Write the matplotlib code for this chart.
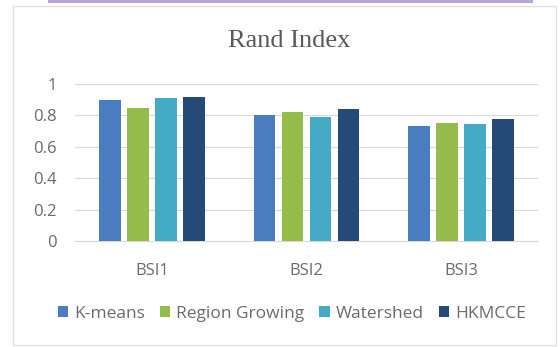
import matplotlib
matplotlib.use("Agg")
import matplotlib.pyplot as plt
import numpy as np
from matplotlib.patches import Rectangle

categories = ["BSI1", "BSI2", "BSI3"]
series_names = ["K-means", "Region Growing", "Watershed", "HKMCCE"]
kmeans = [0.90, 0.80, 0.73]
region_growing = [0.85, 0.82, 0.75]
watershed = [0.91, 0.79, 0.745]
hkmcce = [0.92, 0.84, 0.78]
yticks = [0, 0.2, 0.4, 0.6, 0.8, 1]
ytick_labels = ["0", "0.2", "0.4", "0.6", "0.8", "1"]
title = "Rand Index"

colors = ["#4A7CC0", "#95BB4A", "#45AAC6", "#264A78"]
series = [kmeans, region_growing, watershed, hkmcce]

W, H = 560, 347
fig = plt.figure(figsize=(W / 100, H / 100), dpi=100)
fig.patch.set_facecolor("white")

# chart frame and decorative purple line
fig.patches.append(Rectangle((13 / W, 1 - 345 / H), (556 - 13) / W, (345 - 6) / H,
                             transform=fig.transFigure, fill=False,
                             edgecolor="#E3E3E3", linewidth=1.0))
fig.patches.append(Rectangle((48 / W, 1 - 2.5 / H), (533 - 48) / W, 2.5 / H,
                             transform=fig.transFigure, facecolor="#B7A6D6",
                             edgecolor="none"))

ax = fig.add_axes([75 / W, (H - 241) / H, (538 - 75) / W, (241 - 84) / H])
x = np.arange(len(categories))
offset = 0.181
width = 0.14
for i, (vals, name, c) in enumerate(zip(series, series_names, colors)):
    ax.bar(x + (i - 1.5) * offset, vals, width, color=c, label=name, zorder=3)

ax.set_xlim(-0.5, len(categories) - 0.5)
ax.set_ylim(0, 1)
ax.set_yticks(yticks)
ax.set_yticklabels(ytick_labels)
ax.set_xticks(x)
ax.set_xticklabels(categories)
ax.yaxis.grid(True, color="#D9D9D9", linewidth=0.8, zorder=0)
ax.set_axisbelow(True)
for s in ["top", "right", "left"]:
    ax.spines[s].set_visible(False)
ax.spines["bottom"].set_color("#D9D9D9")
ax.spines["bottom"].set_linewidth(0.8)
ax.tick_params(axis="both", length=0, colors="#6B6B6B", labelsize=12)
ax.tick_params(axis="y", pad=13)
ax.tick_params(axis="x", pad=16)
for lab in ax.get_xticklabels() + ax.get_yticklabels():
    lab.set_fontfamily("Open Sans")

fig.text(289 / W, 1 - 41 / H, title, ha="center", va="center",
         fontsize=19, fontfamily="Liberation Serif", color="#595959")

handles, labels = ax.get_legend_handles_labels()
leg = fig.legend(handles, labels, loc="center", bbox_to_anchor=(292 / W, 1 - 314 / H),
                 ncol=4, frameon=False, handlelength=0.6, handleheight=0.6,
                 handletextpad=0.35, columnspacing=0.85,
                 prop={"family": "Open Sans", "size": 12.5})
for t in leg.get_texts():
    t.set_color("#6B6B6B")

fig.savefig("out.png", dpi=100)
